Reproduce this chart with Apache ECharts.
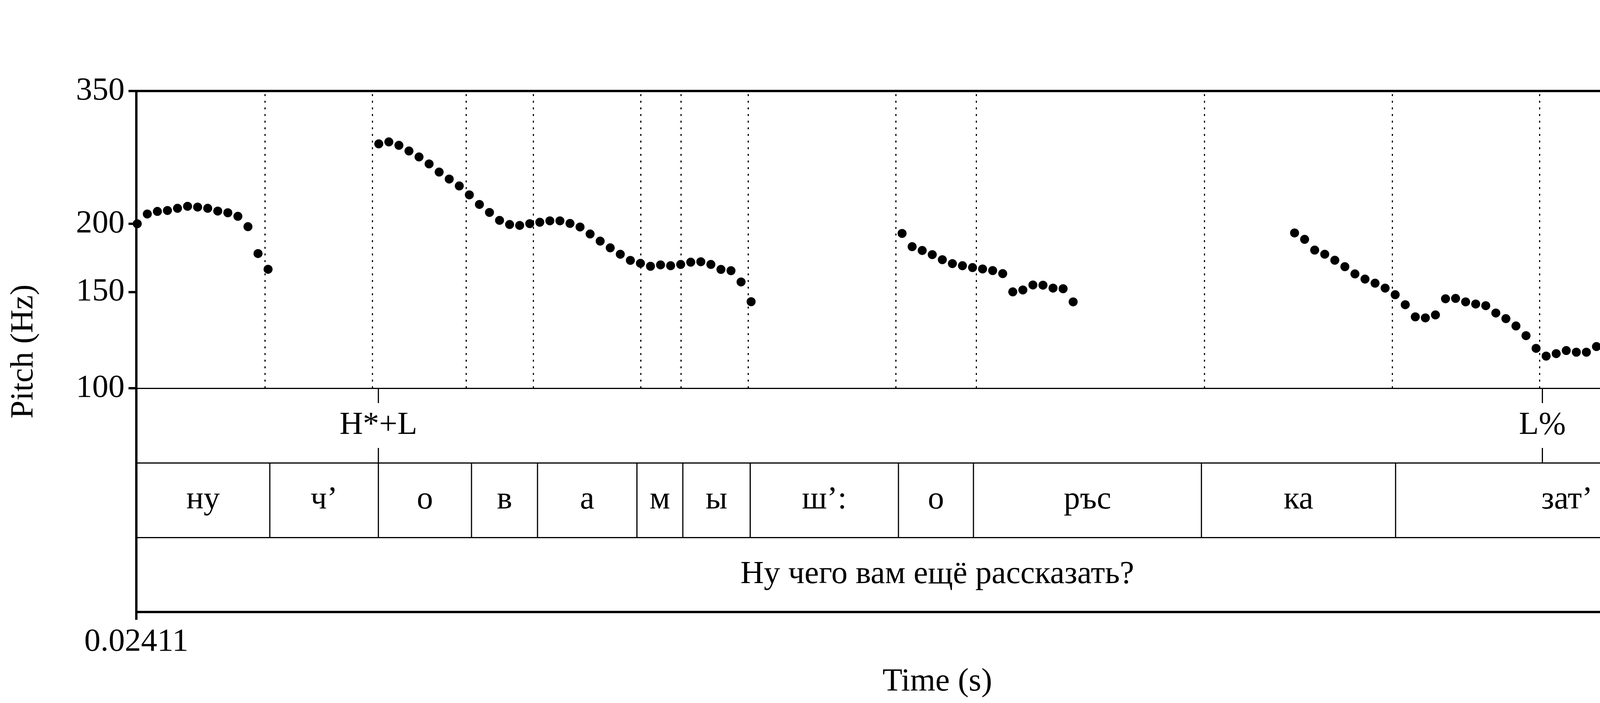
<!DOCTYPE html>
<html>
<head>
<meta charset="utf-8">
<title>Pitch (Hz) – Ну чего вам ещё рассказать?</title>
<script src="https://cdn.jsdelivr.net/npm/echarts@6/dist/echarts.min.js"></script>
<style>
  html, body { margin: 0; padding: 0; background: #fff; }
  #chart { width: 4800px; height: 1800px; }
</style>
</head>
<body>
<div id="chart"></div>
<script>
// time range of the picture (s)
const tMin = 0.02411;
const tMax = 1.218;
const timeTicks = [tMin, tMax];
const pitchTicks = [100, 150, 200, 350];

// pitch points [time (s), F0 (Hz)], one array per voiced stretch
const voiced1 = [
  [0.0248, 200.0], [0.0323, 208.4], [0.0398, 210.7], [0.0473, 211.5], [0.0548, 213.5],
  [0.0623, 215.3], [0.0698, 214.6], [0.0773, 213.5], [0.0848, 211.0], [0.0923, 209.5],
  [0.0998, 206.4], [0.1073, 197.6], [0.1148, 176.4], [0.1223, 165.1]
];
const voiced2 = [
  [0.2048, 280.1], [0.2123, 282.4], [0.2198, 278.4], [0.2273, 271.8], [0.2348, 265.1],
  [0.2423, 257.4], [0.2498, 248.7], [0.2573, 241.5], [0.2648, 234.6], [0.2723, 225.9],
  [0.2798, 217.0], [0.2873, 209.8], [0.2948, 202.9], [0.3023, 199.4], [0.3098, 198.6],
  [0.3173, 200.1], [0.3248, 201.3], [0.3323, 202.5], [0.3398, 202.5], [0.3473, 200.3],
  [0.3548, 197.3], [0.3623, 191.6], [0.3698, 185.9], [0.3773, 180.7], [0.3848, 175.9],
  [0.3923, 171.4], [0.3998, 169.3], [0.4073, 167.2], [0.4148, 168.2], [0.4223, 167.6],
  [0.4298, 168.5], [0.4373, 170.1], [0.4448, 170.4], [0.4523, 168.5], [0.4598, 165.0],
  [0.4673, 164.1], [0.4748, 156.5], [0.4823, 144.0]
];
const voiced3 = [
  [0.5948, 192.0], [0.6023, 181.6], [0.6098, 178.7], [0.6173, 175.6], [0.6248, 171.9],
  [0.6323, 169.1], [0.6398, 167.6], [0.6473, 166.3], [0.6548, 165.3], [0.6623, 164.2],
  [0.6698, 162.1], [0.6773, 150.1], [0.6848, 151.3], [0.6923, 154.5], [0.6998, 154.4],
  [0.7073, 152.5], [0.7148, 152.1], [0.7223, 143.9]
];
const voiced4 = [
  [0.8873, 192.4], [0.8948, 187.3], [0.9023, 179.0], [0.9098, 175.9], [0.9173, 171.5],
  [0.9248, 166.9], [0.9323, 161.9], [0.9398, 158.4], [0.9473, 155.7], [0.9548, 152.5],
  [0.9623, 148.3], [0.9698, 142.2], [0.9773, 135.1], [0.9848, 134.5], [0.9923, 136.2],
  [0.9998, 145.8], [1.0073, 146.0], [1.0148, 143.9], [1.0223, 142.6], [1.0298, 141.6],
  [1.0373, 137.3], [1.0448, 134.1], [1.0523, 130.0], [1.0598, 124.8], [1.0673, 118.3],
  [1.0748, 114.5], [1.0823, 115.7], [1.0898, 117.2], [1.0973, 116.4], [1.1048, 116.4],
  [1.1123, 119.2], [1.1198, 129.1], [1.1273, 142.3], [1.1348, 142.0], [1.1423, 130.1]
];

// tone tier (points)
const toneTimes = [0.2045, 1.0720];
const toneLabels = ['H*+L', 'L%'];

// phone tier (interval boundaries and labels)
const phoneBounds = [0.1236, 0.2045, 0.2739, 0.3231, 0.3972, 0.4314, 0.4816, 0.5921, 0.6480, 0.8179, 0.9626];
const phoneLabels = ['ну', 'ч’', 'о', 'в', 'а', 'м', 'ы', 'ш’:', 'о', 'ръс', 'ка', 'зат’'];

// word tier
const wordLabels = ['Ну чего вам ещё рассказать?'];

const FONT = '"Liberation Serif", "Times New Roman", serif';
const FONT_SIZE = 83;

const pitchData = voiced1.concat(voiced2, voiced3, voiced4);
const phoneStarts = [tMin].concat(phoneBounds);
const phoneEnds = phoneBounds.concat([tMax]);
const phoneIntervals = phoneLabels.map((s, i) => [phoneStarts[i], phoneEnds[i]]);
const wordIntervals = wordLabels.map(() => [tMin, tMax]);
// dotted lines through the pitch area: every boundary and point of the tiers
const dottedTimes = phoneBounds.concat(toneTimes.filter(t => phoneBounds.indexOf(t) < 0));

function textStyle(text) {
    return {
        text: text,
        fill: '#000',
        fontSize: FONT_SIZE,
        fontFamily: FONT,
        align: 'center',
        verticalAlign: 'middle'
    };
}

// label in the middle of an interval, at tier height "level"
function intervalText(labels, level) {
    return function (params, api) {
        const mid = (api.value(0) + api.value(1)) / 2;
        const c = api.coord([mid, level]);
        return { type: 'text', x: c[0], y: c[1], style: textStyle(labels[params.dataIndex]) };
    };
}

function renderBoundary(params, api) {
    const t = api.value(0);
    const a = api.coord([t, 2]);
    const b = api.coord([t, 1]);
    return {
        type: 'line',
        shape: { x1: a[0], y1: a[1], x2: b[0], y2: b[1] },
        style: { stroke: '#000', lineWidth: 3 }
    };
}

function renderTone(params, api) {
    const t = api.value(0);
    const top = api.coord([t, 3]);
    const bot = api.coord([t, 2]);
    const mid = api.coord([t, 2.5]);
    const tick = 38;
    return {
        type: 'group',
        children: [
            { type: 'line', shape: { x1: top[0], y1: top[1], x2: top[0], y2: top[1] + tick }, style: { stroke: '#000', lineWidth: 3 } },
            { type: 'line', shape: { x1: bot[0], y1: bot[1] - tick, x2: bot[0], y2: bot[1] }, style: { stroke: '#000', lineWidth: 3 } },
            { type: 'text', x: mid[0], y: mid[1], style: textStyle(toneLabels[params.dataIndex]) }
        ]
    };
}

const chart = echarts.init(document.getElementById('chart'));

const hiddenX = (grid) => ({
    type: 'value', gridIndex: grid, min: tMin, max: tMax, show: false
});

chart.setOption({
    animation: false,
    backgroundColor: '#fff',
    grid: [
        // pitch area
        { left: 349, top: 233, width: 4101, height: 761 },
        // three tiers
        { left: 349, top: 994, width: 4101, height: 573 },
        // outer frame
        { left: 349, top: 233, width: 4101, height: 1334, show: true, borderColor: '#000', borderWidth: 6, backgroundColor: 'transparent' }
    ],
    xAxis: [
        hiddenX(0),
        hiddenX(1),
        {
            type: 'value',
            gridIndex: 2,
            min: tMin,
            max: tMax,
            position: 'bottom',
            axisLine: { show: false },
            splitLine: { show: false },
            axisTick: {
                show: true,
                customValues: timeTicks,
                length: 20,
                lineStyle: { color: '#000', width: 6 }
            },
            axisLabel: {
                show: true,
                customValues: timeTicks,
                margin: 36,
                color: '#000',
                fontSize: FONT_SIZE,
                fontFamily: FONT,
                formatter: (v) => String(v)
            },
            name: 'Time (s)',
            nameLocation: 'middle',
            nameGap: 138,
            nameTextStyle: { color: '#000', fontSize: FONT_SIZE, fontFamily: FONT }
        }
    ],
    yAxis: [
        {
            type: 'log',
            logBase: 10,
            gridIndex: 0,
            min: 100,
            max: 350,
            axisLine: { show: false },
            splitLine: { show: false },
            minorTick: { show: false },
            axisTick: {
                show: true,
                customValues: pitchTicks,
                length: 20,
                lineStyle: { color: '#000', width: 6 }
            },
            axisLabel: {
                show: true,
                customValues: pitchTicks,
                margin: 30,
                color: '#000',
                fontSize: FONT_SIZE,
                fontFamily: FONT
            }
        },
        {
            type: 'value',
            gridIndex: 1,
            min: 0,
            max: 3,
            interval: 1,
            axisLine: { show: false },
            axisTick: { show: false },
            axisLabel: { show: false },
            splitLine: { show: true, lineStyle: { color: '#000', width: 3 } }
        },
        {
            type: 'value',
            gridIndex: 2,
            min: 0,
            max: 1,
            axisLine: { show: false },
            axisTick: { show: false },
            axisLabel: { show: false },
            splitLine: { show: false },
            name: 'Pitch (Hz)',
            nameLocation: 'middle',
            nameRotate: 90,
            nameGap: 246,
            nameTextStyle: { color: '#000', fontSize: FONT_SIZE, fontFamily: FONT }
        }
    ],
    series: [
        {
            type: 'scatter',
            xAxisIndex: 0,
            yAxisIndex: 0,
            symbol: 'circle',
            symbolSize: 23,
            clip: false,
            itemStyle: { color: '#000', opacity: 1 },
            data: pitchData,
            markLine: {
                silent: true,
                symbol: 'none',
                label: { show: false },
                lineStyle: { color: '#000', width: 3, type: [5, 12], opacity: 1 },
                data: dottedTimes.map(t => ({ xAxis: t }))
            },
            z: 3
        },
        {
            type: 'custom',
            xAxisIndex: 1,
            yAxisIndex: 1,
            renderItem: renderTone,
            data: toneTimes.map(t => [t, 2.5])
        },
        {
            type: 'custom',
            xAxisIndex: 1,
            yAxisIndex: 1,
            renderItem: renderBoundary,
            data: phoneBounds.map(t => [t, 1.5])
        },
        {
            type: 'custom',
            xAxisIndex: 1,
            yAxisIndex: 1,
            renderItem: intervalText(phoneLabels, 1.5),
            data: phoneIntervals
        },
        {
            type: 'custom',
            xAxisIndex: 1,
            yAxisIndex: 1,
            renderItem: intervalText(wordLabels, 0.5),
            data: wordIntervals
        }
    ]
});
</script>
</body>
</html>
